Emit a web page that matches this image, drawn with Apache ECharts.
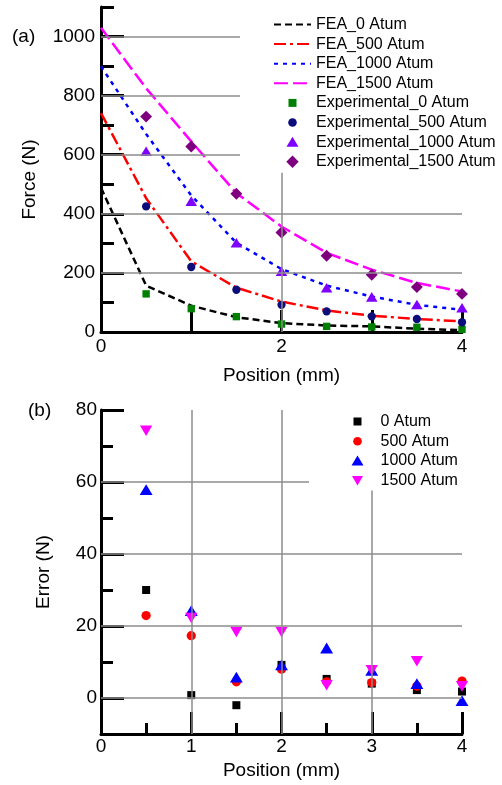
<!DOCTYPE html>
<html>
<head>
<meta charset="utf-8">
<script src="https://cdn.jsdelivr.net/npm/echarts@6/dist/echarts.min.js"></script>
<style>
  html, body { margin: 0; padding: 0; background: #fff; }
  #main { width: 502px; height: 785px; }
</style>
</head>
<body>
<div id="main"></div>
<script>
// x positions (mm)
var positions = [0, 0.5, 1, 1.5, 2, 2.5, 3, 3.5, 4];
var expPositions = [0.5, 1, 1.5, 2, 2.5, 3, 3.5, 4];

// (a) FEA curves, force (N)
var fea0 = [488, 157, 89, 50, 30, 22, 19, 11, 6];
var fea500 = [741, 453, 239, 150, 103, 73, 55, 44, 36];
var fea1000 = [899, 670, 462, 302, 213, 157, 120, 92, 75];
var fea1500 = [1030, 825, 645, 470, 357, 268, 211, 166, 137];

// (a) experimental points, force (N)
var exp0 = [129, 79, 52, 27, 19, 17, 16, 9];
var exp500 = [425, 220, 143, 92, 70, 53, 44, 33];
var exp1000 = [611, 442, 301, 205, 149, 118, 92, 81];
var exp1500 = [729, 628, 468, 337, 258, 194, 152, 129];

// (b) error (N)
var err0 = [30, 0.8, -2, 9.2, 5.3, 4, 2.2, 1.8];
var err500 = [22.9, 17.3, 4.5, 8, 4.5, 4.3, 3.3, 4.7];
var err1000 = [57.8, 24.2, 5.7, 9.1, 13.8, 7.6, 3.9, -0.8];
var err1500 = [74.3, 22.3, 18.4, 18.4, 3.6, 7.8, 10.3, 3.3];

// tick labels / gridlines
var topYLabels = [0, 200, 400, 600, 800, 1000];
var topYMinor = [100, 300, 500, 700, 900, 1100];
var topXLabels = [0, 2, 4];
var topXTicks = [1, 2, 3, 4];
var topGridY = [200, 400, 600, 800, 1000];
var topGridX = [2];

var botYLabels = [0, 20, 40, 60, 80];
var botYMinor = [10, 30, 50, 70];
var botXLabels = [0, 1, 2, 3, 4];
var botXMinor = [0.5, 1.5, 2.5, 3.5];
var botGridY = [0, 20, 40, 60];
var botGridX = [1, 2, 3];

var FONT = 'Liberation Sans, Arial, sans-serif';
var AXIS = { color: '#000', width: 3 };

// marker shapes drawn inside a 13x13 box so legend icons keep their size
var SQUARE = 'path://M0,0M13,13M2.5,2.5H10.5V10.5H2.5Z';
var CIRCLE = 'path://M0,0M13,13M6.5,2.2A4.3,4.3,0,1,1,6.5,10.8A4.3,4.3,0,1,1,6.5,2.2Z';
var TRI_UP = 'path://M0,0M13,13M0.5,11.2L6.5,1.2L12.5,11.2Z';
var DIAMOND = 'path://M0,0M13,13M6.5,0.3L12.7,6.5L6.5,12.7L0.3,6.5Z';
var TRI_DOWN = 'path://M0,0M13,13M1,2L12,2L6.5,11.5Z';

function pairs(xs, ys) {
  return xs.map(function (x, i) { return [x, ys[i]]; });
}

function plain(v) { return String(v); }

function xAxisCfg(grid, ticks, labels, len, margin, gap) {
  return {
    type: 'value', gridIndex: grid, min: 0, max: 4, position: 'bottom',
    axisLine: { onZero: false, lineStyle: AXIS },
    axisTick: { show: true, inside: true, length: len, lineStyle: AXIS, customValues: ticks },
    axisLabel: { customValues: labels, formatter: plain, fontSize: 19, color: '#000', fontFamily: FONT, margin: margin },
    splitLine: { show: false },
    name: 'Position (mm)', nameLocation: 'middle', nameGap: gap,
    nameTextStyle: { fontSize: 19, color: '#000', fontFamily: FONT }
  };
}

function minorAxis(grid, min, max, ticks, len, pos) {
  return {
    type: 'value', gridIndex: grid, min: min, max: max, position: pos,
    axisLine: { show: false, onZero: false },
    axisTick: { show: true, inside: true, length: len, lineStyle: AXIS, customValues: ticks },
    axisLabel: { show: false },
    splitLine: { show: false }
  };
}

function gridLines(xi, yi, ys, xs) {
  return {
    type: 'line', xAxisIndex: xi, yAxisIndex: yi, data: [], silent: true, z: 1,
    markLine: {
      silent: true, symbol: 'none', animation: false,
      label: { show: false },
      lineStyle: { color: '#8c8c8c', width: 1.5, type: 'solid' },
      data: ys.map(function (v) { return { yAxis: v }; })
        .concat(xs.map(function (v) { return { xAxis: v }; }))
    }
  };
}

function feaLine(name, ys, color, dash) {
  return {
    name: name, type: 'line', xAxisIndex: 0, yAxisIndex: 0,
    data: pairs(positions, ys), symbol: 'none',
    lineStyle: { color: color, width: 2.5, type: dash }, itemStyle: { color: color }, z: 3
  };
}

function scatter(name, xi, yi, ys, color, symbol, size) {
  return {
    name: name, type: 'scatter', xAxisIndex: xi, yAxisIndex: yi,
    data: pairs(expPositions, ys), symbol: symbol, symbolSize: size, symbolKeepAspect: true,
    itemStyle: { color: color, opacity: 1 }, z: 4
  };
}

function lineItem(name) {
  return { name: name, itemStyle: { color: 'rgba(0,0,0,0)', borderWidth: 0 } };
}

function markItem(name, icon) {
  return { name: name, icon: icon };
}

var chart = echarts.init(document.getElementById('main'));
chart.setOption({
  animation: false,
  backgroundColor: '#fff',
  textStyle: { fontFamily: FONT },
  graphic: [
    { type: 'text', left: 12, top: 27, style: { text: '(a)', font: '19px ' + FONT, fill: '#000' } },
    { type: 'text', left: 28, top: 401, style: { text: '(b)', font: '19px ' + FONT, fill: '#000' } }
  ],
  grid: [
    { left: 101, right: 40, top: 7, bottom: 453 },
    { left: 101, right: 40, top: 410, bottom: 51 }
  ],
  legend: [
    {
      orient: 'vertical', left: 240, top: 4, padding: [12.5, 4, 3, 33],
      itemGap: 3.6, itemWidth: 37, itemHeight: 13, symbolKeepAspect: true,
      backgroundColor: '#fff', selectedMode: false, z: 6,
      textStyle: { fontSize: 16, color: '#000', fontFamily: FONT },
      data: [
        lineItem('FEA_0 Atum'), lineItem('FEA_500 Atum'),
        lineItem('FEA_1000 Atum'), lineItem('FEA_1500 Atum'),
        markItem('Experimental_0 Atum', SQUARE), markItem('Experimental_500 Atum', CIRCLE),
        markItem('Experimental_1000 Atum', TRI_UP), markItem('Experimental_1500 Atum', DIAMOND)
      ]
    },
    {
      orient: 'vertical', left: 309, top: 405, padding: [8.5, 4, 2, 42],
      itemGap: 3.7, itemWidth: 36, itemHeight: 13, symbolKeepAspect: true,
      backgroundColor: '#fff', selectedMode: false, z: 6,
      textStyle: { fontSize: 16, color: '#000', fontFamily: FONT },
      data: [
        markItem('0 Atum', SQUARE), markItem('500 Atum', CIRCLE),
        markItem('1000 Atum', TRI_UP), markItem('1500 Atum', TRI_DOWN)
      ]
    }
  ],
  xAxis: [
    xAxisCfg(0, topXTicks, topXLabels, 22, 5, 34),
    xAxisCfg(1, topXTicks, botXLabels, 22, 3, 27),
    minorAxis(1, 0, 4, botXMinor, 11, 'bottom')
  ],
  yAxis: [
    {
      type: 'value', gridIndex: 0, min: 0, max: 1100, position: 'left',
      axisLine: { onZero: false, lineStyle: AXIS },
      axisTick: { show: true, inside: true, length: 23, lineStyle: AXIS, customValues: topYLabels },
      axisLabel: { customValues: topYLabels, formatter: plain, fontSize: 19, color: '#000', fontFamily: FONT, margin: 6 },
      splitLine: { show: false },
      name: 'Force (N)', nameLocation: 'middle', nameGap: 62,
      nameTextStyle: { fontSize: 19, color: '#000', fontFamily: FONT, padding: [0, 20, 0, 0] }
    },
    minorAxis(0, 0, 1100, topYMinor, 13, 'left'),
    {
      type: 'value', gridIndex: 1, min: -10, max: 80, position: 'left',
      axisLine: { onZero: false, lineStyle: AXIS },
      axisTick: { show: true, inside: true, length: 23, lineStyle: AXIS, customValues: botYLabels },
      axisLabel: { customValues: botYLabels, formatter: plain, fontSize: 19, color: '#000', fontFamily: FONT, margin: 4 },
      splitLine: { show: false },
      name: 'Error (N)', nameLocation: 'middle', nameGap: 48,
      nameTextStyle: { fontSize: 19, color: '#000', fontFamily: FONT }
    },
    minorAxis(1, -10, 80, botYMinor, 12, 'left')
  ],
  series: [
    gridLines(0, 0, topGridY, topGridX),
    gridLines(1, 2, botGridY, botGridX),
    feaLine('FEA_0 Atum', fea0, '#000000', [7, 4]),
    feaLine('FEA_500 Atum', fea500, '#ff0000', [12, 4, 3, 4]),
    feaLine('FEA_1000 Atum', fea1000, '#0000ff', [4, 5]),
    feaLine('FEA_1500 Atum', fea1500, '#ff00ff', [14, 5]),
    scatter('Experimental_0 Atum', 0, 0, exp0, '#008000', SQUARE, 12),
    scatter('Experimental_500 Atum', 0, 0, exp500, '#0c0c7a', CIRCLE, 12.5),
    scatter('Experimental_1000 Atum', 0, 0, exp1000, '#8000ff', TRI_UP, 12.5),
    scatter('Experimental_1500 Atum', 0, 0, exp1500, '#7f007f', DIAMOND, 12.5),
    scatter('0 Atum', 1, 2, err0, '#000000', SQUARE, 13),
    scatter('500 Atum', 1, 2, err500, '#ff0000', CIRCLE, 14),
    scatter('1000 Atum', 1, 2, err1000, '#0000ff', TRI_UP, 14),
    scatter('1500 Atum', 1, 2, err1500, '#ff00ff', TRI_DOWN, 14.5)
  ]
});
</script>
</body>
</html>
